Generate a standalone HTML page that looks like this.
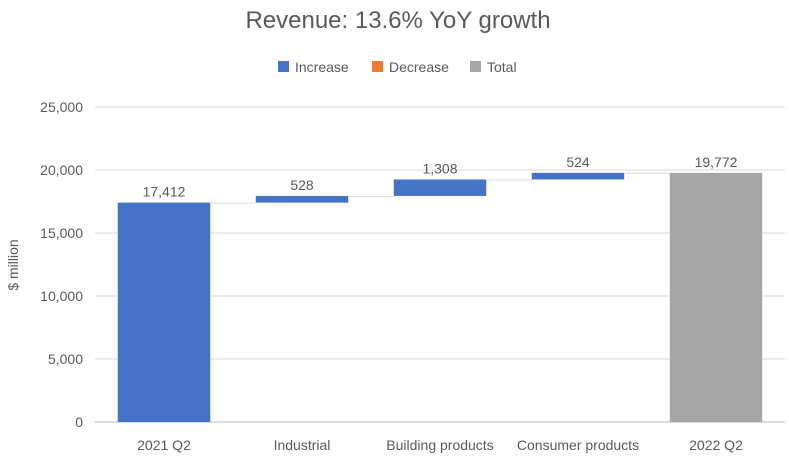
<!DOCTYPE html>
<html><head><meta charset="utf-8"><style>
body{margin:0;background:#fff;}
svg text{font-family:"Liberation Sans",sans-serif;fill:#595959;}
</style></head><body>
<svg width="789" height="462" xmlns="http://www.w3.org/2000/svg">
<rect width="789" height="462" fill="#fff"/>
<text x="398" y="28" text-anchor="middle" font-size="24">Revenue: 13.6% YoY growth</text>
<g>
<g><rect x="278" y="61" width="11" height="11" fill="#4472c4"/><text x="295" y="72" font-size="14">Increase</text></g>
<g><rect x="372" y="61" width="11" height="11" fill="#ed7d31"/><text x="389" y="72" font-size="14">Decrease</text></g>
<g><rect x="470" y="61" width="11" height="11" fill="#a5a5a5"/><text x="487" y="72" font-size="14">Total</text></g>
</g>
<g id="grid"></g>
<g id="marks"></g>
<text transform="translate(18,265) rotate(-90)" text-anchor="middle" font-size="14">$ million</text>
</svg>
<script>
const categories=["2021 Q2","Industrial","Building products","Consumer products","2022 Q2"];
const values=[17412,528,1308,524,19772];
const types=["total","increase","increase","increase","total"];
const labels=["17,412","528","1,308","524","19,772"];
const ticks=[0,5000,10000,15000,20000,25000];
const tickLabels=["0","5,000","10,000","15,000","20,000","25,000"];
const NS="http://www.w3.org/2000/svg";
const x0=95,x1=785,y0=422,yTop=107,maxV=25000;
const y=v=>y0-(v/maxV)*(y0-yTop);
const band=(x1-x0)/categories.length;
const bw=band*0.67;
const cx=i=>x0+band*(i+0.5);
function mk(tag,attrs,parent){const e=document.createElementNS(NS,tag);for(const k in attrs)e.setAttribute(k,attrs[k]);parent.appendChild(e);return e;}
const grid=document.getElementById('grid'),marks=document.getElementById('marks');
ticks.forEach((t,i)=>{
 const l=mk('line',{x1:x0,x2:x1,y1:y(t),y2:y(t),stroke:t===0?'#bfbfbf':'#d9d9d9','stroke-width':1},grid);
 
 
 const tx=mk('text',{x:x0-12,y:y(t)+5,'text-anchor':'end','font-size':14},grid);
 tx.textContent=tickLabels[i];
 
 
});
let run=0;
const colors={total:'#a5a5a5',increase:'#4472c4',decrease:'#ed7d31'};
categories.forEach((c,i)=>{
 let lo,hi,col;
 if(types[i]==='total'){lo=0;hi=values[i];run=values[i];col=i===0?'#4472c4':'#a5a5a5';}
 else{lo=run;hi=run+values[i];run=hi;col=colors[types[i]];}
 const r=mk('rect',{x:cx(i)-bw/2,y:y(hi),width:bw,height:y(lo)-y(hi),fill:col},marks);
 
 
 if(i<categories.length-1){
  const ln=mk('line',{x1:cx(i)+bw/2,x2:cx(i+1)-bw/2,y1:y(hi)+0.5,y2:y(hi)+0.5,stroke:'#d9d9d9','stroke-width':1},marks);
  
  
 }
 const vl=mk('text',{x:cx(i),y:y(hi)-6,'text-anchor':'middle','font-size':14},marks);
 vl.textContent=labels[i];
 
 
 const xl=mk('text',{x:cx(i),y:y0+28,'text-anchor':'middle','font-size':14},marks);
 xl.textContent=c;
 
 
});
</script>
</body></html>
